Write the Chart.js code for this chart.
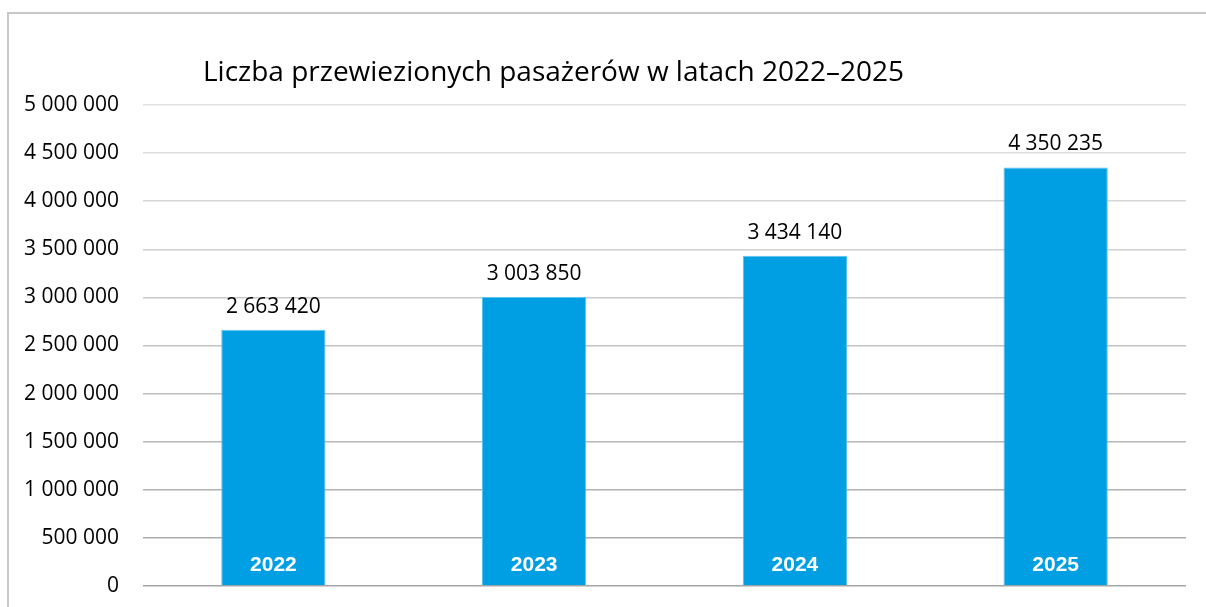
<!DOCTYPE html>
<html lang="pl">
<head>
<meta charset="utf-8">
<script src="https://cdn.jsdelivr.net/npm/chart.js@4/dist/chart.umd.min.js"></script>
<style>
  html, body { margin: 0; padding: 0; background: #ffffff; overflow: hidden; }
  #wrap { position: relative; width: 1206px; height: 607px; }
  #frame { position: absolute; left: 7px; top: 12px; width: 1400px; height: 800px;
           border-left: 2px solid #c8c8c8; border-top: 2px solid #c8c8c8; box-sizing: border-box; }
  #c { position: absolute; left: 0; top: 0; }
</style>
</head>
<body>
<div id="wrap">
  <div id="frame"></div>
  <canvas id="c" width="1206" height="607"></canvas>
</div>
<script>
const chartTitle = "Liczba przewiezionych pasażerów w latach 2022–2025";
const years = ["2022", "2023", "2024", "2025"];
const passengers = [2663420, 3003850, 3434140, 4350235];
const yTicks = [0, 500000, 1000000, 1500000, 2000000, 2500000, 3000000, 3500000, 4000000, 4500000, 5000000];

function fmt(v) {
  return String(Math.round(v)).replace(/\B(?=(\d{3})+(?!\d))/g, " ");
}

function gridColor(ctx) {
  const v = ctx.tick ? ctx.tick.value : 0;
  const t = v / 5000000;
  const c = Math.round(165 + (226 - 165) * t);
  return `rgb(${c},${c},${c})`;
}

const labelPlugin = {
  id: 'labels',
  afterDatasetsDraw(chart) {
    const ctx = chart.ctx;
    const meta = chart.getDatasetMeta(0);
    const yScale = chart.scales.y;
    ctx.save();
    meta.data.forEach((bar, i) => {
      ctx.textAlign = 'center';
      ctx.textBaseline = 'middle';
      ctx.fillStyle = '#000000';
      ctx.font = '21px "Open Sans"';
      ctx.fillText(fmt(passengers[i]), bar.x, bar.y - 23);
      ctx.fillStyle = '#ffffff';
      ctx.font = 'bold 21px "Liberation Sans"';
      ctx.fillText(years[i], bar.x, yScale.getPixelForValue(0) - 21);
    });
    ctx.restore();
  },
  afterDraw(chart) {
    const ctx = chart.ctx;
    ctx.save();
    ctx.fillStyle = '#000000';
    ctx.font = '28px "Open Sans"';
    ctx.textAlign = 'left';
    ctx.textBaseline = 'middle';
    ctx.fillText(chartTitle, 203, 73);
    ctx.restore();
  }
};

new Chart(document.getElementById('c'), {
  type: 'bar',
  data: {
    labels: years,
    datasets: [{
      data: passengers,
      backgroundColor: '#009fe3',
      borderColor: '#5cc3ee',
      borderWidth: 1,
      categoryPercentage: 1.0,
      barPercentage: 0.4
    }]
  },
  options: {
    responsive: false,
    animation: false,
    devicePixelRatio: 1,
    layout: { padding: { left: 0, top: 105, right: 20, bottom: 21 } },
    plugins: {
      legend: { display: false },
      title: { display: false },
      tooltip: { enabled: false }
    },
    scales: {
      x: { display: false },
      y: {
        min: 0,
        max: 5000000,
        afterFit(scale) { scale.width = 143; },
        afterBuildTicks(scale) { scale.ticks = yTicks.map(v => ({ value: v })); },
        border: { display: false },
        grid: { color: gridColor, lineWidth: 1.5, drawTicks: true, tickLength: 24, tickColor: 'rgba(0,0,0,0)' },
        ticks: {
          padding: 0,
          color: '#000000',
          font: { family: '"Open Sans"', size: 21 },
          callback: (v) => fmt(v)
        }
      }
    }
  },
  plugins: [labelPlugin]
});
</script>
</body>
</html>
